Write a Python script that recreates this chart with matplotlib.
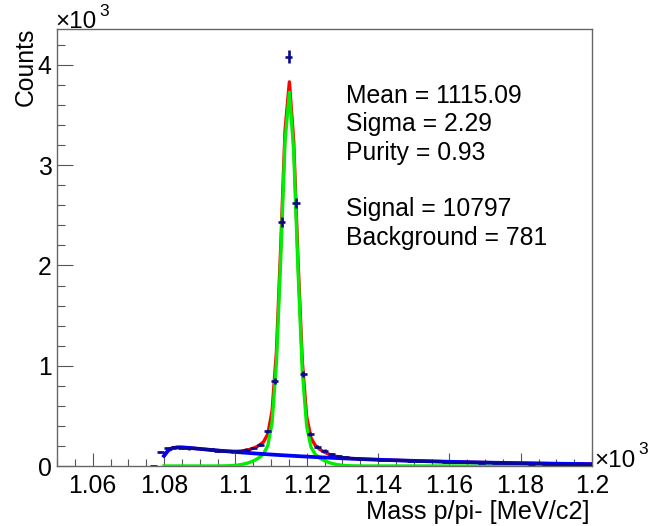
import numpy as np
import matplotlib
matplotlib.use('Agg')
import matplotlib.pyplot as plt
from matplotlib.ticker import MultipleLocator, FuncFormatter

# ---------------- data ----------------
bin_lo = 1.076          # lower edge of first filled bin (x10^3 MeV/c2)
bin_width = 0.002
counts = [3, 140, 178, 185, 182, 176, 178, 170, 165, 152, 150, 146, 150, 162,
          178, 212, 345, 848, 2431, 4083, 2626, 921, 322, 193, 153, 117, 100,
          88, 80, 74, 70, 66, 64, 60, 58, 57, 52, 51, 47, 45, 46, 43, 41, 39,
          38, 35, 33, 35, 32, 34, 31, 27, 28, 24, 26, 22, 23, 21, 20, 19, 18, 17]

# fit parameters (signal: double gaussian, background: threshold * exp)
sig_mean = 1.11509
sig_h1, sig_s1 = 3477.0, 0.00210
sig_h2, sig_s2 = 253.0, 0.0056
bkg_A, bkg_x0, bkg_c, bkg_b = 213.0, 1.079, 0.0015, 20.0
fit_lo, fit_hi, fit_npx = 1.08, 1.2, 100

stats_lines = ["Mean = 1115.09", "Sigma = 2.29", "Purity = 0.93", "",
               "Signal = 10797", "Background = 781"]
x_title = "Mass p/pi- [MeV/c2]"
y_title = "Counts"

# ---------------- figure ----------------
W, H = 668, 526
FONT = 'Liberation Sans'
plt.rcParams['font.family'] = [FONT, 'DejaVu Sans']
fig = plt.figure(figsize=(W / 100, H / 100), dpi=100)
L, R, B, T = 57, 592, 466, 29
ax = fig.add_axes([L / W, 1 - B / H, (R - L) / W, (B - T) / H])

counts = np.array(counts, dtype=float)
centers = bin_lo + bin_width * (np.arange(len(counts)) + 0.5)
errs = np.sqrt(counts)

xf = np.linspace(fit_lo, fit_hi, fit_npx)
signal = (sig_h1 * np.exp(-0.5 * ((xf - sig_mean) / sig_s1) ** 2)
          + sig_h2 * np.exp(-0.5 * ((xf - sig_mean) / sig_s2) ** 2))
u = np.clip(xf - bkg_x0, 0, None)
background = bkg_A * (1 - np.exp(-u / bkg_c)) * np.exp(-bkg_b * u)
total = signal + background

lw = 2.4
ax.plot(xf, total, color='#ff0000', lw=lw, zorder=3)
ax.plot(xf, signal, color='#00ee00', lw=lw, zorder=4)
ax.plot(xf, background, color='#0000ff', lw=lw + 0.3, zorder=5)
ax.errorbar(centers, counts, xerr=bin_width / 2, yerr=errs, fmt='none',
            ecolor='#0a0a8a', elinewidth=1.9, capsize=0, zorder=6)

ax.set_xlim(1.05, 1.2)
ax.set_ylim(0, 4359)

ax.xaxis.set_major_locator(MultipleLocator(0.02))
ax.xaxis.set_minor_locator(MultipleLocator(0.005))
ax.yaxis.set_major_locator(MultipleLocator(1000))
ax.yaxis.set_minor_locator(MultipleLocator(200))
ax.xaxis.set_major_formatter(FuncFormatter(lambda v, p: f"{v:g}"))
ax.yaxis.set_major_formatter(FuncFormatter(lambda v, p: f"{v / 1000:g}"))

fs = 17.8
ax.tick_params(axis='both', which='both', direction='in', top=False,
               right=False, color='#555555', width=0.8, labelsize=fs)
ax.tick_params(axis='x', which='major', length=9.4, pad=5.5)
ax.tick_params(axis='x', which='minor', length=4.7)
ax.tick_params(axis='y', which='major', length=11.5, pad=4)
ax.tick_params(axis='y', which='minor', length=5.8)
for s in ax.spines.values():
    s.set_color('#666666')
    s.set_linewidth(1.0)

def px(x, y):
    return x / W, 1 - y / H

# axis titles
fig.text(*px(590, 519), x_title, ha='right', va='baseline', fontsize=fs + 0.4)
fig.text(*px(26, 28), y_title, ha='center', va='top', rotation=90, fontsize=fs)

# exponent labels
fs_exp, fs_sup = 17.5, 12.5
fig.text(*px(55, 28), "×10", ha='left', va='baseline', fontsize=fs_exp)
fig.text(*px(99, 16), "3", ha='left', va='baseline', fontsize=fs_sup)
fig.text(*px(594, 467), "×10", ha='left', va='baseline', fontsize=fs_exp)
fig.text(*px(638, 454), "3", ha='left', va='baseline', fontsize=fs_sup)

# stats box text
baselines = [103, 131.5, 160, 188.5, 216, 244.5]
for line, yb in zip(stats_lines, baselines):
    if line:
        fig.text(*px(346, yb), line, ha='left', va='baseline', fontsize=fs)

fig.savefig('out.png', dpi=100)
